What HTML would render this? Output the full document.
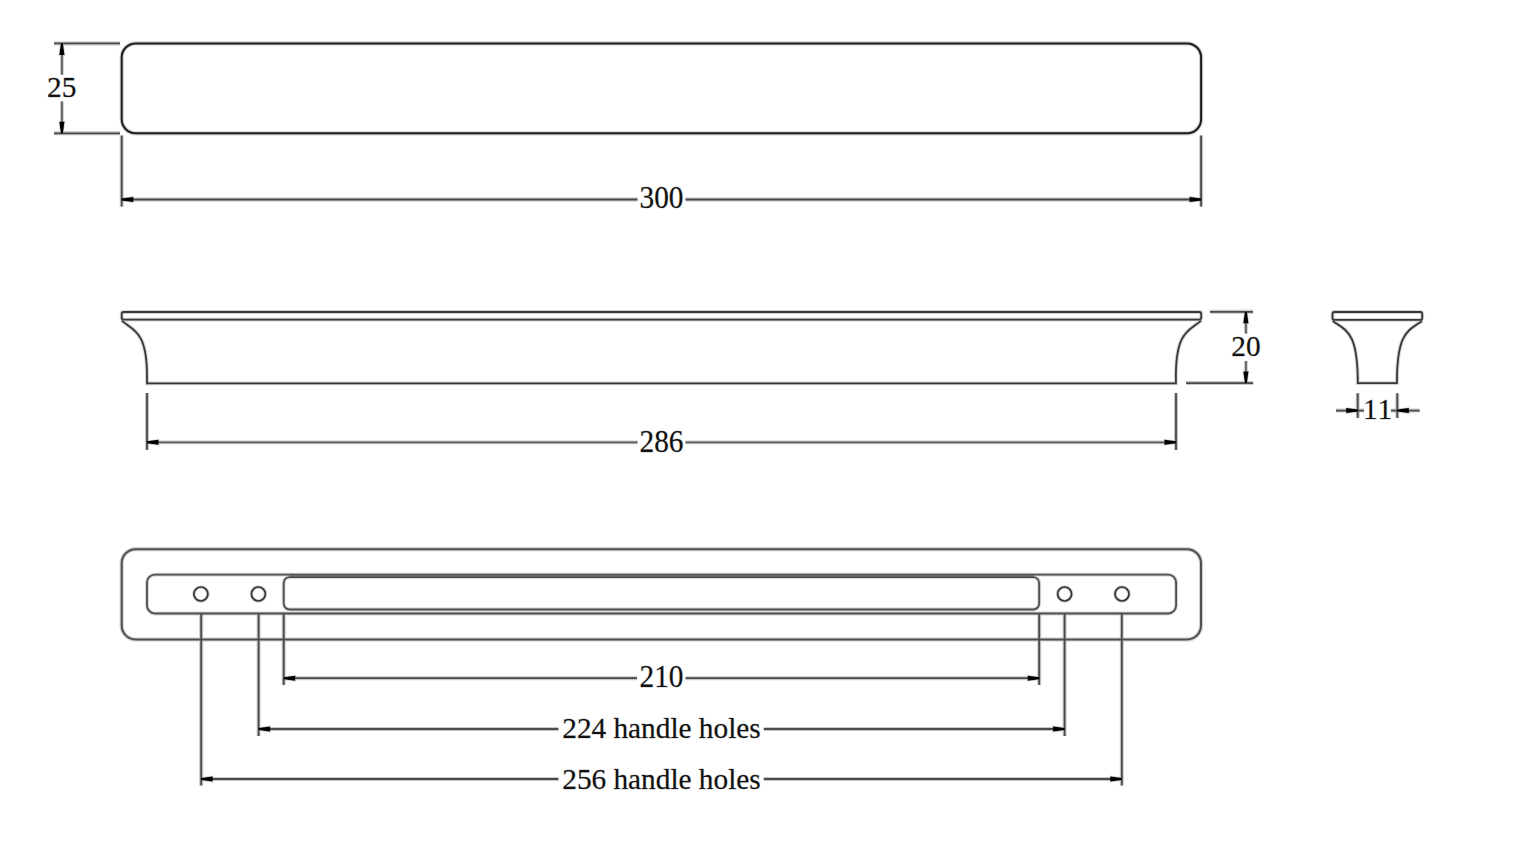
<!DOCTYPE html>
<html>
<head>
<meta charset="utf-8">
<style>
html,body{margin:0;padding:0;background:#fff;width:1515px;height:865px;overflow:hidden;}
svg{display:block;}
text{font-family:"Liberation Serif",serif;font-size:29.3px;fill:#111;text-anchor:middle;stroke:#c8c8c8;stroke-width:0.8px;paint-order:stroke;}
#h .l{stroke:#cfcfcf;stroke-width:4.2;fill:none}#h .m{stroke:#d2d2d2;stroke-width:3.8;fill:none}#h .b{stroke:#d0d0d0;stroke-width:4.2;fill:none}#h .n{stroke:#d4d4d4;stroke-width:3.8;fill:none}#h .c{stroke:#d4d4d4;stroke-width:3.6;fill:none}#h .g{stroke:none;stroke-width:0;fill:none}#h .d{stroke:#c8c8c8;stroke-width:4.0;fill:none}#h .t{stroke:#cacaca;stroke-width:3.8;fill:none}
#c .l{stroke:#1e1e1e;stroke-width:2.0;fill:none}#c .m{stroke:#383838;stroke-width:1.8;fill:none}#c .b{stroke:#505050;stroke-width:2.0;fill:none}#c .n{stroke:#505050;stroke-width:1.8;fill:none}#c .c{stroke:#333;stroke-width:1.7;fill:none}#c .g{stroke:#8a8a8a;stroke-width:3.0;fill:none}#c .d{stroke:#4a4a4a;stroke-width:1.8;fill:none}#c .t{stroke:#5c5c5c;stroke-width:1.7;fill:none}
#h .ar{fill:#cfcfcf;stroke:#cfcfcf;stroke-width:1.6}
#c .ar{fill:#000;stroke:none}
</style>
</head>
<body>
<svg width="1515" height="865" viewBox="0 0 1515 865">
<g id="h">
<rect class="l" x="121.7" y="43.4" width="1079.40" height="89.90" rx="14" ry="14"/>
<path class="d" d="M54 43.4H120M54 133.3H120"/>
<path class="t" d="M61.9 43.4V74.7M61.9 101.5V133.3"/>
<path class="d" d="M121.7 135.5V206.5M1201.1 135.5V206.5"/>
<path class="d" d="M121.7 199.5H637.5M685.5 199.5H1201.1"/>
<path class="m" d="M123.7 312.0H1199.2Q1201.2 312.0 1201.2 314.0V317.6Q1201.2 319.6 1199.2 319.6H123.7Q121.7 319.6 121.7 317.6V314.0Q121.7 312.0 123.7 312.0Z"/>
<path class="m" d="M121.8 320.6C132.4 330.1 147 330.1 147 375.7V383.3H1175.9V375.7C1175.9 330.1 1190.5 330.1 1201.1 320.6"/>
<path class="d" d="M147.0 393V450M1176.0 393V450"/>
<path class="t" d="M147.0 442.3H637.5M685.5 442.3H1176.0"/>
<path class="d" d="M1210 311.8H1253.1M1186 383.1H1253.1"/>
<path class="t" d="M1245.9 311.8V333.5M1245.9 361V383.1"/>
<path class="m" d="M1334.5 312.0H1420.2Q1422.2 312.0 1422.2 314.0V317.9Q1422.2 319.9 1420.2 319.9H1334.5Q1332.5 319.9 1332.5 317.9V314.0Q1332.5 312.0 1334.5 312.0Z"/>
<path class="m" d="M1332.8 321C1346.3 330.9 1357.8 331.4 1357.8 383.2H1396.9C1396.9 331.4 1408.4 330.9 1421.9 321"/>
<path class="d" d="M1357.7 393.3V418M1397.3000000000002 393.3V418"/>
<path class="d" d="M1336 410.6H1364M1391 410.6H1419.7"/>
<rect class="b" x="121.7" y="549.2" width="1079.30" height="90.30" rx="14" ry="14"/>
<path class="g" d="M289 575.9H1034"/>
<rect class="n" x="147.0" y="574.6" width="1029.10" height="38.90" rx="8" ry="8"/>
<rect class="n" x="283.7" y="577.2" width="755.50" height="32.30" rx="6" ry="6"/>
<circle class="c" cx="200.9" cy="594.0" r="7.0"/>
<circle class="c" cx="258.4" cy="594.0" r="7.0"/>
<circle class="c" cx="1064.6" cy="594.0" r="7.0"/>
<circle class="c" cx="1122.0" cy="594.0" r="7.0"/>
<path class="d" d="M201.2 613.5V785.5M258.6 613.5V736M283.7 613.5V685M1039.2 613.5V685M1064.6 613.5V736M1121.8 613.5V785.5"/>
<path class="d" d="M283.7 678.2H637M685.5 678.2H1039.2"/>
<path class="d" d="M258.6 729H558.4M763.8 729H1064.6"/>
<path class="d" d="M201.2 779H558.4M763.8 779H1121.8"/>
<path class="ar" d="M60.90 43.40L59.40 54.90L64.40 54.90L62.90 43.40ZM60.90 133.30L59.40 121.80L64.40 121.80L62.90 133.30ZM121.70 198.50L133.20 197.00L133.20 202.00L121.70 200.50ZM1201.10 198.50L1189.60 197.00L1189.60 202.00L1201.10 200.50ZM147.00 441.30L158.50 439.80L158.50 444.80L147.00 443.30ZM1176.00 441.30L1164.50 439.80L1164.50 444.80L1176.00 443.30ZM1244.90 311.80L1243.40 323.30L1248.40 323.30L1246.90 311.80ZM1244.90 383.10L1243.40 371.60L1248.40 371.60L1246.90 383.10ZM1357.70 409.60L1346.20 408.10L1346.20 413.10L1357.70 411.60ZM1397.30 409.60L1408.80 408.10L1408.80 413.10L1397.30 411.60ZM283.70 677.20L295.20 675.70L295.20 680.70L283.70 679.20ZM1039.20 677.20L1027.70 675.70L1027.70 680.70L1039.20 679.20ZM258.60 728.00L270.10 726.50L270.10 731.50L258.60 730.00ZM1064.60 728.00L1053.10 726.50L1053.10 731.50L1064.60 730.00ZM201.20 778.00L212.70 776.50L212.70 781.50L201.20 780.00ZM1121.80 778.00L1110.30 776.50L1110.30 781.50L1121.80 780.00Z"/>
</g>
<g id="c">
<rect class="l" x="121.7" y="43.4" width="1079.40" height="89.90" rx="14" ry="14"/>
<path class="d" d="M54 43.4H120M54 133.3H120"/>
<path class="t" d="M61.9 43.4V74.7M61.9 101.5V133.3"/>
<path class="d" d="M121.7 135.5V206.5M1201.1 135.5V206.5"/>
<path class="d" d="M121.7 199.5H637.5M685.5 199.5H1201.1"/>
<path class="m" d="M123.7 312.0H1199.2Q1201.2 312.0 1201.2 314.0V317.6Q1201.2 319.6 1199.2 319.6H123.7Q121.7 319.6 121.7 317.6V314.0Q121.7 312.0 123.7 312.0Z"/>
<path class="m" d="M121.8 320.6C132.4 330.1 147 330.1 147 375.7V383.3H1175.9V375.7C1175.9 330.1 1190.5 330.1 1201.1 320.6"/>
<path class="d" d="M147.0 393V450M1176.0 393V450"/>
<path class="t" d="M147.0 442.3H637.5M685.5 442.3H1176.0"/>
<path class="d" d="M1210 311.8H1253.1M1186 383.1H1253.1"/>
<path class="t" d="M1245.9 311.8V333.5M1245.9 361V383.1"/>
<path class="m" d="M1334.5 312.0H1420.2Q1422.2 312.0 1422.2 314.0V317.9Q1422.2 319.9 1420.2 319.9H1334.5Q1332.5 319.9 1332.5 317.9V314.0Q1332.5 312.0 1334.5 312.0Z"/>
<path class="m" d="M1332.8 321C1346.3 330.9 1357.8 331.4 1357.8 383.2H1396.9C1396.9 331.4 1408.4 330.9 1421.9 321"/>
<path class="d" d="M1357.7 393.3V418M1397.3000000000002 393.3V418"/>
<path class="d" d="M1336 410.6H1364M1391 410.6H1419.7"/>
<rect class="b" x="121.7" y="549.2" width="1079.30" height="90.30" rx="14" ry="14"/>
<path class="g" d="M289 575.9H1034"/>
<rect class="n" x="147.0" y="574.6" width="1029.10" height="38.90" rx="8" ry="8"/>
<rect class="n" x="283.7" y="577.2" width="755.50" height="32.30" rx="6" ry="6"/>
<circle class="c" cx="200.9" cy="594.0" r="7.0"/>
<circle class="c" cx="258.4" cy="594.0" r="7.0"/>
<circle class="c" cx="1064.6" cy="594.0" r="7.0"/>
<circle class="c" cx="1122.0" cy="594.0" r="7.0"/>
<path class="d" d="M201.2 613.5V785.5M258.6 613.5V736M283.7 613.5V685M1039.2 613.5V685M1064.6 613.5V736M1121.8 613.5V785.5"/>
<path class="d" d="M283.7 678.2H637M685.5 678.2H1039.2"/>
<path class="d" d="M258.6 729H558.4M763.8 729H1064.6"/>
<path class="d" d="M201.2 779H558.4M763.8 779H1121.8"/>
<path class="ar" d="M60.90 43.40L59.40 54.90L64.40 54.90L62.90 43.40ZM60.90 133.30L59.40 121.80L64.40 121.80L62.90 133.30ZM121.70 198.50L133.20 197.00L133.20 202.00L121.70 200.50ZM1201.10 198.50L1189.60 197.00L1189.60 202.00L1201.10 200.50ZM147.00 441.30L158.50 439.80L158.50 444.80L147.00 443.30ZM1176.00 441.30L1164.50 439.80L1164.50 444.80L1176.00 443.30ZM1244.90 311.80L1243.40 323.30L1248.40 323.30L1246.90 311.80ZM1244.90 383.10L1243.40 371.60L1248.40 371.60L1246.90 383.10ZM1357.70 409.60L1346.20 408.10L1346.20 413.10L1357.70 411.60ZM1397.30 409.60L1408.80 408.10L1408.80 413.10L1397.30 411.60ZM283.70 677.20L295.20 675.70L295.20 680.70L283.70 679.20ZM1039.20 677.20L1027.70 675.70L1027.70 680.70L1039.20 679.20ZM258.60 728.00L270.10 726.50L270.10 731.50L258.60 730.00ZM1064.60 728.00L1053.10 726.50L1053.10 731.50L1064.60 730.00ZM201.20 778.00L212.70 776.50L212.70 781.50L201.20 780.00ZM1121.80 778.00L1110.30 776.50L1110.30 781.50L1121.80 780.00Z"/>
</g>
<g id="tx">
<text transform="translate(61.7 97) scale(1 1.04)">25</text>
<text transform="translate(661.45 208) scale(1 1.08)">300</text>
<text transform="translate(661.45 452) scale(1 1.08)">286</text>
<text transform="translate(1246 356.3) scale(1 1.03)">20</text>
<text transform="translate(1377.6 418.5) scale(1 1.0)" style="font-kerning:none">11</text>
<text transform="translate(661.45 686.5) scale(1 1.06)">210</text>
<text transform="translate(661.45 738) scale(1 1.04)">224 handle holes</text>
<text transform="translate(661.45 789) scale(1 1.04)">256 handle holes</text>
</g>
</svg>
</body>
</html>
